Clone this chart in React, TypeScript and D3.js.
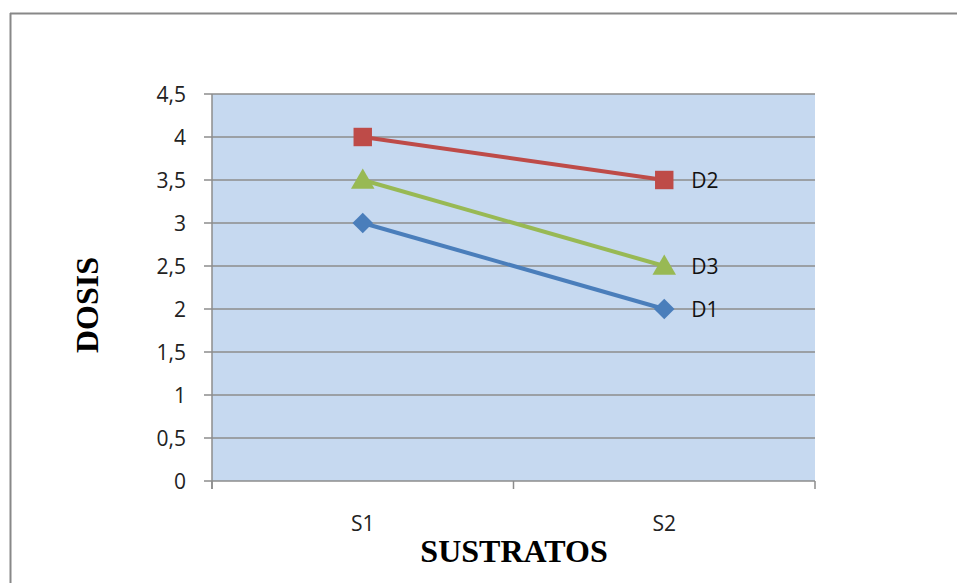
import React from "react";
import * as d3 from "d3";

const categories = ["S1", "S2"];
const seriesNames = ["D1", "D2", "D3"];
const d1 = [3, 2];
const d2 = [4, 3.5];
const d3v = [3.5, 2.5];
const yTicks = [0, 0.5, 1, 1.5, 2, 2.5, 3, 3.5, 4, 4.5];
const colors = ["#4a7ebb", "#be4b48", "#98b954"];
const markers = ["diamond", "square", "triangle"];

export default function App() {
  const W = 957, H = 583;
  const left = 212, right = 815, top = 94, bottom = 481;
  const x = d3.scaleBand().domain(categories).range([left, right]);
  const y = d3.scaleLinear().domain([0, 4.5]).range([bottom, top]);
  const fmt = (v: number) => String(v).replace(".", ",");
  const series = [d1, d2, d3v];
  const line = d3.line<number>().x((_, i) => x(categories[i])! + x.bandwidth() / 2).y((v) => y(v));
  const sym = (m: string) => {
    if (m === "diamond") return d3.symbol(d3.symbolDiamond2 ?? d3.symbolSquare2, 270)();
    if (m === "square") return d3.symbol(d3.symbolSquare, 340)();
    return d3.symbol(d3.symbolTriangle, 240)();
  };
  const xTickPos = [left, ...categories.map((c) => x(c)! + x.bandwidth())];
  const font = "'Open Sans', sans-serif";
  return (
    <svg width={W} height={H} style={{ position: "fixed", left: 0, top: 0, display: "block" }}>
      <rect x={0} y={0} width={W} height={H} fill="#fff" />
      <line x1={10} x2={W} y1={13.5} y2={13.5} stroke="#888" strokeWidth={2} />
      <line x1={10.5} x2={10.5} y1={13} y2={H} stroke="#888" strokeWidth={2} />
      <rect x={left} y={top} width={right - left} height={bottom - top} fill="#c6d9f0" />
      {yTicks.map((t) => (
        <g key={t}>
          <line x1={left - 8} x2={right} y1={y(t)} y2={y(t)} stroke="#8c8c8c" strokeWidth={1.5} />
          <text x={186} y={y(t) + 7.5} textAnchor="end" fontFamily={font} fontSize={21} fill="#222">
            {fmt(t)}
          </text>
        </g>
      ))}
      <line x1={left} x2={left} y1={top} y2={bottom + 8} stroke="#8c8c8c" strokeWidth={1.5} />
      {xTickPos.map((p, i) => (
        <line key={i} x1={p} x2={p} y1={bottom} y2={bottom + 8} stroke="#8c8c8c" strokeWidth={1.5} />
      ))}
      {categories.map((c) => (
        <text key={c} x={x(c)! + x.bandwidth() / 2} y={531} textAnchor="middle" fontFamily={font} fontSize={21} fill="#222">
          {c}
        </text>
      ))}
      {series.map((s, i) => (
        <g key={i}>
          <path d={line(s)!} fill="none" stroke={colors[i]} strokeWidth={4} />
          {s.map((v, j) => (
            <path
              key={j}
              d={sym(markers[i])!}
              transform={`translate(${x(categories[j])! + x.bandwidth() / 2},${y(v) + (markers[i] === "triangle" ? 2 : 0)})`}
              fill={colors[i]}
            />
          ))}
          <text
            x={x(categories[1])! + x.bandwidth() / 2 + 27}
            y={y(s[1]) + 8}
            fontFamily={font}
            fontSize={21}
            fill="#111"
          >
            {seriesNames[i]}
          </text>
        </g>
      ))}
      <text
        transform={`translate(98,305) rotate(-90)`}
        textAnchor="middle"
        fontFamily="'Liberation Serif', serif"
        fontWeight="bold"
        fontSize={32}
        fill="#000"
      >
        DOSIS
      </text>
      <text x={514} y={562} textAnchor="middle" fontFamily="'Liberation Serif', serif" fontWeight="bold" fontSize={32} fill="#000">
        SUSTRATOS
      </text>
    </svg>
  );
}
